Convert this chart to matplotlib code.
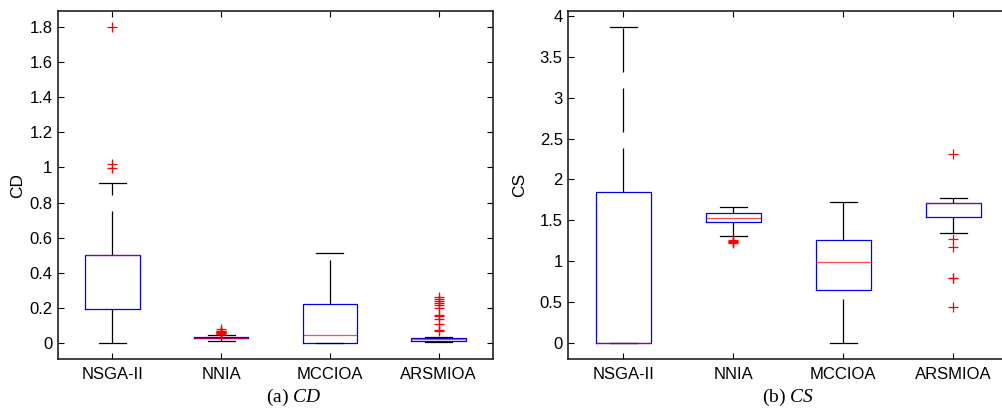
import matplotlib
matplotlib.use("Agg")
import matplotlib.pyplot as plt
from matplotlib.ticker import FormatStrFormatter, MultipleLocator

plt.rcParams["font.family"] = ["Liberation Sans", "DejaVu Sans"]
plt.rcParams["mathtext.fontset"] = "custom"
plt.rcParams["mathtext.rm"] = "Liberation Serif"
plt.rcParams["mathtext.it"] = "Liberation Serif:italic"

algorithms = ["NSGA-II", "NNIA", "MCCIOA", "ARSMIOA"]

# (a) CD box statistics
cd_whislo = [0.0, 0.013, 0.0, 0.006]
cd_q1 = [0.197, 0.028, 0.0, 0.013]
cd_med = [0.501, 0.032, 0.049, 0.023]
cd_q3 = [0.501, 0.036, 0.224, 0.028]
cd_whishi = [0.914, 0.049, 0.516, 0.034]
cd_fliers = [
    [1.8, 0.998, 1.017],
    [0.055, 0.058, 0.06, 0.062, 0.065, 0.068, 0.072, 0.082],
    [],
    [0.07, 0.075, 0.11, 0.14, 0.155, 0.16, 0.2, 0.215, 0.23, 0.24, 0.25, 0.262],
]

# (b) CS box statistics
cs_whislo = [0.0, 1.313, 0.0, 1.342]
cs_q1 = [0.0, 1.476, 0.645, 1.545]
cs_med = [0.0, 1.533, 0.995, 1.709]
cs_q3 = [1.851, 1.590, 1.256, 1.709]
cs_whishi = [3.865, 1.660, 1.721, 1.778]
cs_fliers = [
    [],
    [1.262, 1.25, 1.24, 1.23, 1.22],
    [],
    [2.316, 1.268, 1.178, 0.80, 0.79, 0.44],
]

LW = 0.9


def draw_panel(ax, whislo, q1, med, q3, whishi, fliers, ylim, step, ylabel):
    stats = []
    for i, name in enumerate(algorithms):
        stats.append(dict(label=name, whislo=whislo[i], q1=q1[i], med=med[i],
                          q3=q3[i], whishi=whishi[i], fliers=fliers[i]))
    art = ax.bxp(stats, positions=[1, 2, 3, 4], widths=0.5, capwidths=0.25,
                 boxprops=dict(color="blue", linewidth=LW),
                 medianprops=dict(color="red", linewidth=LW, alpha=0.7),
                 whiskerprops=dict(color="black", linewidth=LW,
                                   linestyle=(0, (31.7 / LW, 11.5 / LW))),
                 capprops=dict(color="black", linewidth=LW),
                 flierprops=dict(marker="+", markeredgecolor="red", markersize=7.5,
                                 markeredgewidth=LW, linestyle="none"))
    # MATLAB draws the lower whisker from the cap up to the box
    for w in art["whiskers"][0::2]:
        w.set_ydata(w.get_ydata()[::-1])

    ax.set_xlim(0.5, 4.5)
    ax.set_ylim(*ylim)
    ax.yaxis.set_major_locator(MultipleLocator(step))
    ax.yaxis.set_major_formatter(FormatStrFormatter("%g"))
    ax.tick_params(direction="in", top=True, right=True, length=4, width=0.8,
                   labelsize=12, colors="black")
    ax.tick_params(axis="y", pad=4)
    ax.tick_params(axis="x", pad=6)
    for s in ax.spines.values():
        s.set_linewidth(1.2)
        s.set_color("#222222")
    ax.set_ylabel(ylabel, fontsize=12.5)


fig = plt.figure(figsize=(10.02, 4.09), dpi=100)
ax1 = fig.add_axes([0.0579, 0.1222, 0.4341, 0.8509])
ax2 = fig.add_axes([0.5672, 0.1222, 0.4391, 0.8509])

draw_panel(ax1, cd_whislo, cd_q1, cd_med, cd_q3, cd_whishi, cd_fliers,
           (-0.09, 1.89), 0.2, "CD")
draw_panel(ax2, cs_whislo, cs_q1, cs_med, cs_q3, cs_whishi, cs_fliers,
           (-0.195, 4.06), 0.5, "CS")
ax1.yaxis.set_label_coords(-0.076, 0.5)
ax2.yaxis.set_label_coords(-0.094, 0.5)

fig.text(0.2934, 0.029, r"(a) $\mathit{CD}$", family="Liberation Serif",
         fontsize=14, ha="center", va="center")
fig.text(0.786, 0.029, r"(b) $\mathit{CS}$", family="Liberation Serif",
         fontsize=14, ha="center", va="center")

fig.savefig("out.png", dpi=100)
